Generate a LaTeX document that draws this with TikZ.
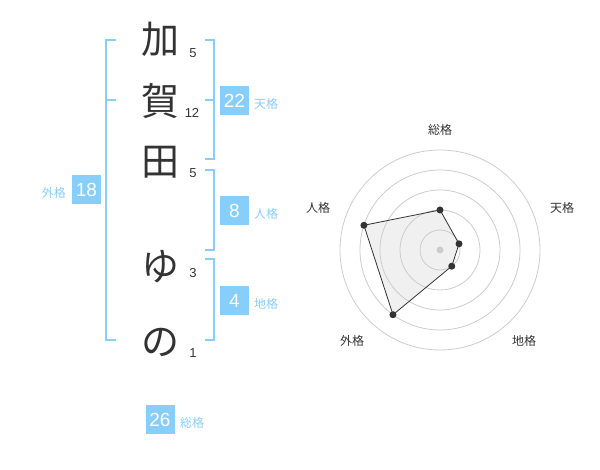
\documentclass[tikz,border=0pt]{standalone}
\usepackage{fontspec}
\setmainfont{Liberation Sans}
\newfontfamily\jp{Noto Sans CJK JP}
\definecolor{sky}{RGB}{135,206,250}
\definecolor{ink}{RGB}{51,51,51}
\definecolor{ring}{RGB}{204,204,204}
\definecolor{poly}{RGB}{225,225,225}
\tikzset{
  bigchar/.style={font=\jp\fontsize{38}{38}\selectfont, text=ink, inner sep=0pt},
  strokes/.style={font=\fontsize{13}{13}\selectfont, text=ink, inner sep=0pt},
  valbox/.style={fill=sky, text=white, minimum width=29pt, minimum height=29pt, inner sep=0pt, font=\fontsize{19}{19}\selectfont},
  kakulabel/.style={font=\jp\fontsize{12}{12}\selectfont, text=sky, inner sep=0pt},
  bracket/.style={draw=sky, line width=2pt},
  radarlabel/.style={font=\jp\fontsize{12}{12}\selectfont, text=ink, inner sep=0pt},
  ringline/.style={draw=ring, line width=0.8pt},
  dot/.style={circle, fill=ink, inner sep=0pt, minimum size=7pt},
}
\begin{document}
\begin{tikzpicture}[x=1pt,y=-1pt]
\useasboundingbox (0,0) rectangle (600,470);
% characters
\node[bigchar] (c1) at (160,39) {加};
\node[bigchar] (c2) at (160,101) {賀};
\node[bigchar] (c3) at (160,162) {田};
\node[bigchar] (c4) at (160,267) {ゆ};
\node[bigchar] (c5) at (160,342) {の};
% stroke counts
\node[strokes] (s1) at (193,53) {5};
\node[strokes] (s2) at (192,113) {12};
\node[strokes] (s3) at (193,173) {5};
\node[strokes] (s4) at (193,273) {3};
\node[strokes] (s5) at (193,353) {1};
% left bracket (gaikaku)
\coordinate (la) at (116,40);
\coordinate (lb) at (106,40);
\coordinate (lc) at (106,340);
\coordinate (ld) at (116,340);
\coordinate (lm1) at (106,100);
\coordinate (lm2) at (116,100);
\draw[bracket] (la) -- (lb) -- (lc) -- (ld);
\draw[bracket] (lm1) -- (lm2);
% right bracket 1 (tenkaku)
\coordinate (ra1) at (205,40);
\coordinate (ra2) at (214,40);
\coordinate (ra3) at (214,159);
\coordinate (ra4) at (205,159);
\coordinate (ram1) at (205,100);
\coordinate (ram2) at (214,100);
\draw[bracket] (ra1) -- (ra2) -- (ra3) -- (ra4);
\draw[bracket] (ram1) -- (ram2);
% right bracket 2 (jinkaku)
\coordinate (rb1) at (205,170);
\coordinate (rb2) at (214,170);
\coordinate (rb3) at (214,250);
\coordinate (rb4) at (205,250);
\draw[bracket] (rb1) -- (rb2) -- (rb3) -- (rb4);
% right bracket 3 (chikaku)
\coordinate (rc1) at (205,259);
\coordinate (rc2) at (214,259);
\coordinate (rc3) at (214,340);
\coordinate (rc4) at (205,340);
\draw[bracket] (rc1) -- (rc2) -- (rc3) -- (rc4);
% value boxes
\node[valbox] (b18) at (86.5,190) {18};
\node[kakulabel, anchor=east] (l18) at (66,193) {外格};
\node[valbox] (b22) at (234.5,100.5) {22};
\node[kakulabel, anchor=west] (l22) at (254,104) {天格};
\node[valbox] (b8) at (234.5,210.5) {8};
\node[kakulabel, anchor=west] (l8) at (254,214) {人格};
\node[valbox] (b4) at (234.5,300.5) {4};
\node[kakulabel, anchor=west] (l4) at (254,304) {地格};
\node[valbox] (b26) at (160,419.5) {26};
\node[kakulabel, anchor=west] (l26) at (180,423) {総格};
% radar chart
\begin{scope}[shift={(440,250)}, yscale=-1]
  \coordinate (p1) at (90:40);
  \coordinate (p2) at (18:20);
  \coordinate (p3) at (-54:20);
  \coordinate (p4) at (-126:80);
  \coordinate (p5) at (162:80);
  \fill[poly, fill opacity=0.5] (p1) -- (p2) -- (p3) -- (p4) -- (p5) -- cycle;
  \foreach \r in {20,40,60,80,100} \draw[ringline] (0,0) circle (\r pt);
  \draw[ink, line width=0.8pt] (p1) -- (p2) -- (p3) -- (p4) -- (p5) -- cycle;
  \node[circle, fill=ring, inner sep=0pt, minimum size=7pt] (ctr) at (0,0) {};
  \foreach \p in {p1,p2,p3,p4,p5} \node[dot] at (\p) {};
  \node[radarlabel] (t1) at (0,120) {総格};
  \node[radarlabel] (t2) at (122,42) {天格};
  \node[radarlabel] (t3) at (84,-91) {地格};
  \node[radarlabel] (t4) at (-88,-91) {外格};
  \node[radarlabel] (t5) at (-122,42) {人格};
\end{scope}
\end{tikzpicture}
\end{document}
